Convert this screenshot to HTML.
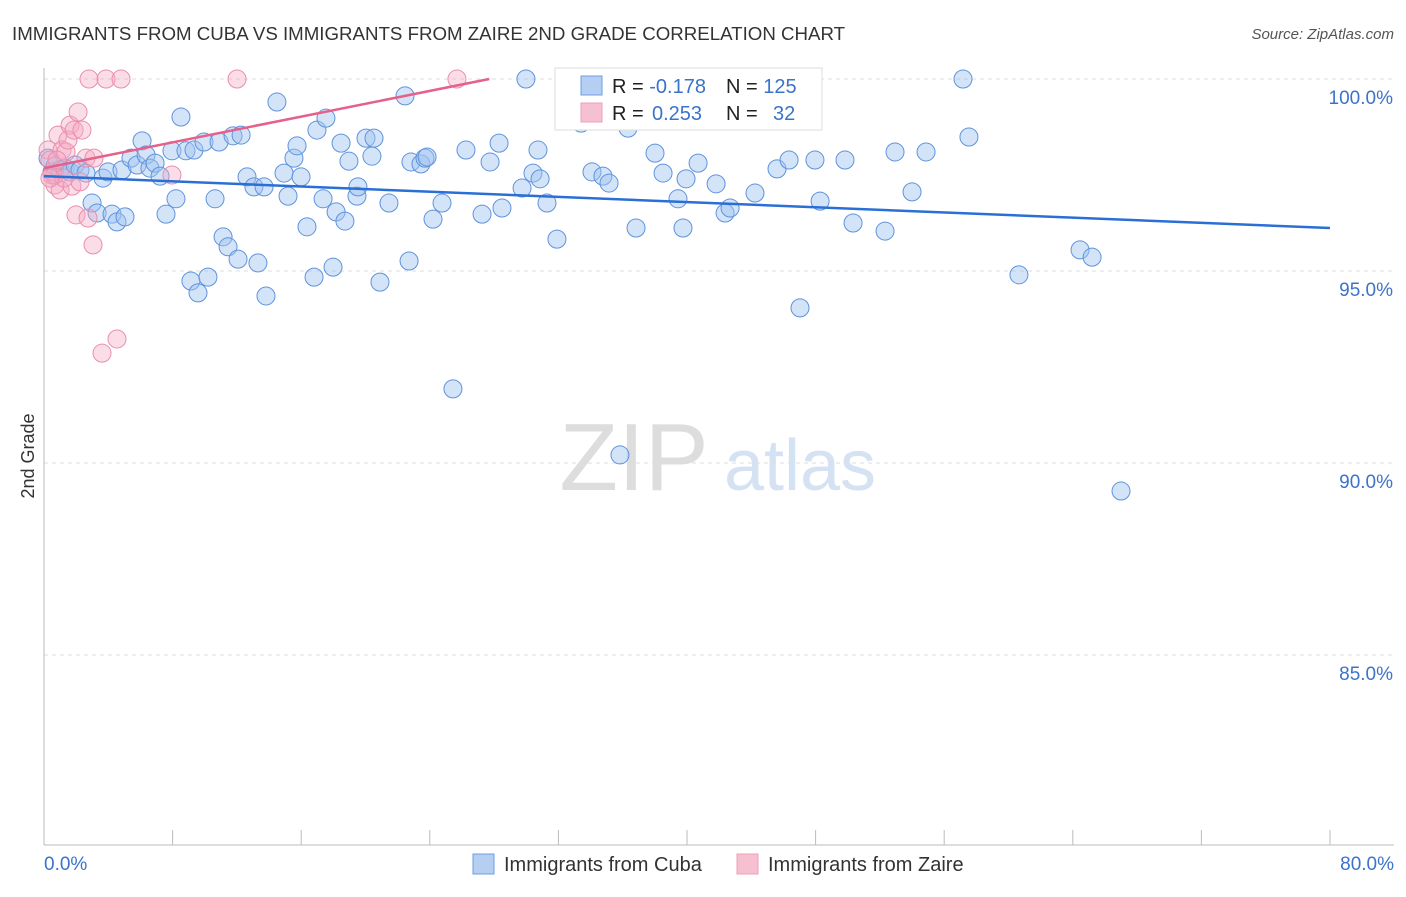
<!DOCTYPE html>
<html><head><meta charset="utf-8"><style>
body{margin:0;background:#fff;font-family:"Liberation Sans",sans-serif;}
svg text{font-family:"Liberation Sans",sans-serif;}
</style></head><body>
<svg id="c" width="1406" height="892">
<text x="12" y="40" font-size="18.7" fill="#333">IMMIGRANTS FROM CUBA VS IMMIGRANTS FROM ZAIRE 2ND GRADE CORRELATION CHART</text>
<text x="1394" y="39" font-size="15" fill="#555" font-style="italic" text-anchor="end">Source: ZipAtlas.com</text>
<text x="34" y="456" font-size="18" fill="#333" transform="rotate(-90 34 456)" text-anchor="middle">2nd Grade</text>
<g><text x="634" y="490" font-size="96" fill="#ddd" font-family="Liberation Serif" text-anchor="middle">ZIP</text><text x="800" y="490" font-size="72" fill="#d5e2f3" text-anchor="middle">atlas</text></g>
<g id="grid"></g><g id="axes"></g><g id="pts"></g><g id="lines"></g>
<g>
<rect x="555" y="68" width="267" height="62" fill="#fff" stroke="#ddd"/>
<rect x="581" y="76" width="21" height="19" fill="#b5cff2" stroke="#6f9ee0"/>
<rect x="581" y="103" width="21" height="19" fill="#f7c0d1" stroke="#eba0b8"/>
<text x="612" y="93" font-size="20" fill="#222">R = <tspan fill="#3b73c9">-0.178</tspan><tspan x="726">N = </tspan><tspan fill="#3b73c9">125</tspan></text>
<text x="612" y="120" font-size="20" fill="#222">R = <tspan fill="#3b73c9" x="652">0.253</tspan><tspan x="726">N = </tspan><tspan fill="#3b73c9" x="773">32</tspan></text>
</g>
<g>
<rect x="473" y="854" width="21" height="20" fill="#b5cff2" stroke="#6f9ee0"/>
<text x="504" y="871" font-size="20" fill="#333">Immigrants from Cuba</text>
<rect x="737" y="854" width="21" height="20" fill="#f7c0d1" stroke="#eba0b8"/>
<text x="768" y="871" font-size="20" fill="#333">Immigrants from Zaire</text>
</g>
</svg>
<script>
const xTicks=[0,10,20,30,40,50,60,70,80];
const yTicks=[85,90,95,100];
const yTickLabels=["85.0%","90.0%","95.0%","100.0%"];
const cuba=[[0.25,97.94],[0.50,97.58],[0.68,97.73],[1.00,97.63],[1.31,97.68],[1.62,97.58],[1.93,97.76],[2.24,97.63],[2.61,97.55],[2.99,96.77],[3.30,96.51],[3.67,97.42],[3.98,97.58],[4.23,96.48],[4.54,96.28],[4.85,97.63],[5.04,96.41],[5.41,97.94],[5.79,97.76],[6.10,98.39],[6.35,98.02],[6.59,97.68],[6.91,97.81],[7.22,97.47],[7.59,96.48],[7.96,98.13],[8.21,96.88],[8.52,99.01],[8.83,98.13],[9.14,94.74],[9.33,98.15],[9.58,94.43],[9.95,98.36],[10.20,94.84],[10.64,96.88],[10.89,98.36],[11.14,95.89],[11.45,95.63],[11.76,98.52],[12.07,95.31],[12.26,98.54],[12.63,97.45],[13.06,97.19],[13.31,95.21],[13.69,97.19],[13.81,94.35],[14.49,99.40],[14.93,97.55],[15.18,96.95],[15.55,97.94],[15.74,98.26],[15.99,97.45],[16.36,96.15],[16.80,94.84],[16.98,98.67],[17.36,96.88],[17.54,98.98],[17.98,95.10],[18.17,96.54],[18.48,98.33],[18.72,96.30],[18.97,97.86],[19.47,96.95],[19.53,97.19],[20.03,98.46],[20.40,97.99],[20.53,98.46],[20.90,94.71],[21.46,96.77],[22.46,99.56],[22.71,95.26],[22.83,97.84],[23.45,97.79],[23.70,97.94],[23.83,97.97],[24.20,96.35],[24.76,96.77],[25.44,91.93],[26.25,98.15],[27.25,96.48],[27.75,97.84],[28.31,98.33],[28.49,96.64],[29.74,97.16],[29.98,100],[30.42,97.55],[30.73,98.15],[30.86,97.40],[31.29,96.77],[31.91,95.83],[33.41,98.85],[34.09,97.58],[34.77,97.47],[35.15,97.29],[35.83,90.21],[36.33,98.72],[36.83,96.12],[38.01,98.07],[38.51,97.55],[39.44,96.88],[39.75,96.12],[39.94,97.40],[40.69,97.81],[41.81,97.27],[42.37,96.51],[42.68,96.64],[44.23,97.03],[45.60,97.66],[46.35,97.89],[47.03,94.04],[47.96,97.89],[48.28,96.82],[49.83,97.89],[50.33,96.25],[52.32,96.04],[52.94,98.10],[54.00,97.06],[54.87,98.10],[57.17,100],[57.54,98.49],[60.65,94.90],[64.45,95.55],[65.20,95.36],[67.00,89.27]];
const zaire=[[0.25,98.15],[0.37,97.89],[0.50,97.50],[0.68,97.24],[0.87,98.54],[1.00,97.11],[1.12,98.15],[1.37,98.10],[1.49,98.41],[1.62,98.80],[1.74,97.21],[1.87,98.67],[1.99,96.46],[2.12,99.14],[2.24,97.32],[2.36,98.67],[2.61,97.94],[2.74,96.38],[2.80,100],[3.05,95.68],[3.11,97.94],[3.61,92.86],[3.86,100],[4.54,93.23],[4.79,100],[7.96,97.50],[12.01,100],[25.69,100],[0.68,97.50],[1.24,97.42],[0.37,97.42],[0.81,97.89]];
const cubaTrend=[[0,97.47],[80,96.12]];
const zaireTrend=[[0,97.68],[27.7,100]];
const NS='http://www.w3.org/2000/svg';
const X=v=>44+v/80*1286, Y=v=>79+(100-v)*38.4;
function mk(p,t,a){const e=document.createElementNS(NS,t);for(const k in a)e.setAttribute(k,a[k]);document.getElementById(p).appendChild(e);return e;}
yTicks.forEach((t,i)=>{
 const g=mk('grid','line',{x1:44,x2:1394,y1:Y(t),y2:Y(t),stroke:'#ddd','stroke-dasharray':'4,4'});
 
 
 const l=mk('grid','text',{x:1393,y:Y(t)+25,'text-anchor':'end','font-size':19,fill:'#3b73c9'});
 l.textContent=yTickLabels[i];
 
 
});
const ax=mk('axes','line',{x1:44,x2:44,y1:68,y2:845,stroke:'#bbb'});


const bx=mk('axes','line',{x1:44,x2:1394,y1:845,y2:845,stroke:'#bbb'});


for(let i=0;i<=10;i++){const v=i*8;const t=mk('axes','line',{x1:X(v),x2:X(v),y1:830,y2:845,stroke:'#bbb'});
 
 }
[[0,'0.0%','start',44],[80,'80.0%','end',1394]].forEach(d=>{const t=mk('axes','text',{x:d[3],y:870,'text-anchor':d[2],'font-size':19,fill:'#3b73c9'});t.textContent=d[1];
 
 });
cuba.forEach(p=>{const c=mk('pts','circle',{cx:X(p[0]),cy:Y(p[1]),r:9,fill:'rgba(160,195,240,0.45)',stroke:'#5f93dc','stroke-width':1});
 
 });
zaire.forEach(p=>{const c=mk('pts','circle',{cx:X(p[0]),cy:Y(p[1]),r:9,fill:'rgba(245,170,195,0.4)',stroke:'#e98fad','stroke-width':1});
 
 });
const l1=mk('lines','line',{x1:X(cubaTrend[0][0]),y1:Y(cubaTrend[0][1]),x2:X(cubaTrend[1][0]),y2:Y(cubaTrend[1][1]),stroke:'#2a6fd6','stroke-width':2.5});


const l2=mk('lines','line',{x1:X(zaireTrend[0][0]),y1:Y(zaireTrend[0][1]),x2:X(zaireTrend[1][0]),y2:Y(zaireTrend[1][1]),stroke:'#e5608a','stroke-width':2.5});


</script>
</body></html>
